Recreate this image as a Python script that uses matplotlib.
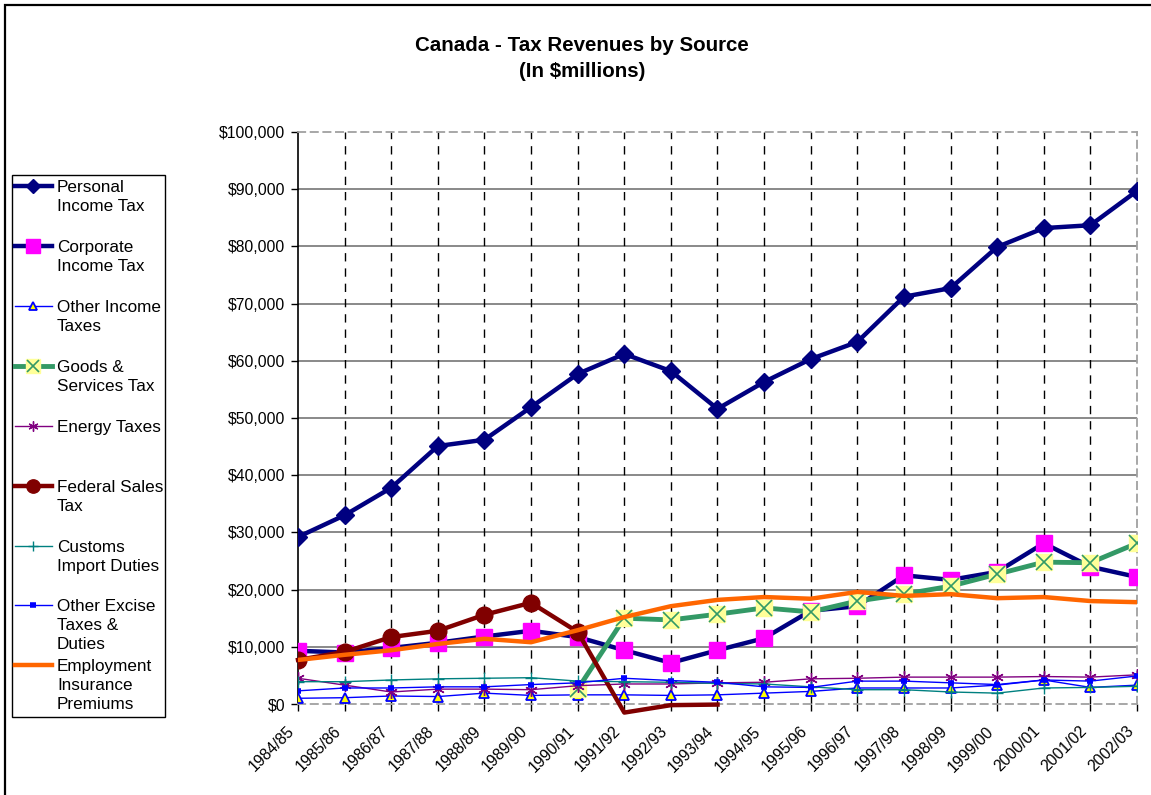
import numpy as np
import matplotlib
matplotlib.use("Agg")
import matplotlib.pyplot as plt
import matplotlib.transforms as mtransforms
from matplotlib.lines import Line2D
from matplotlib.patches import Rectangle
from matplotlib.ticker import FuncFormatter

plt.rcParams['font.family'] = ['Liberation Sans', 'DejaVu Sans']

# ---------- Data ($ millions) ----------
years = ['1984/85', '1985/86', '1986/87', '1987/88', '1988/89', '1989/90', '1990/91',
         '1991/92', '1992/93', '1993/94', '1994/95', '1995/96', '1996/97', '1997/98',
         '1998/99', '1999/00', '2000/01', '2001/02', '2002/03']
nan = np.nan

personal_income = [29200, 33000, 37800, 45100, 46200, 51900, 57700, 61200, 58200, 51600,
                   56300, 60300, 63300, 71200, 72700, 79900, 83200, 83700, 89700]
corporate_income = [9300, 9000, 9800, 10700, 11800, 12800, 11700, 9400, 7200, 9400,
                    11500, 16300, 17100, 22500, 21700, 23100, 28100, 24000, 22200]
other_income = [1000, 1100, 1400, 1300, 1900, 1500, 1600, 1600, 1500, 1600,
                1900, 2200, 2800, 2800, 2800, 3300, 4200, 2900, 3300]
gst = [nan, nan, nan, nan, nan, nan, 2600, 15000, 14700, 15700,
       16800, 16100, 18000, 19200, 20600, 22700, 24800, 24700, 28100]
energy = [4500, 3300, 2100, 2600, 2600, 2500, 3200, 3500, 3500, 3700,
          3800, 4400, 4500, 4700, 4700, 4700, 4800, 4700, 5100]
federal_sales = [7700, 9100, 11700, 12800, 15600, 17700, 12600, -1500, -200, -100,
                 nan, nan, nan, nan, nan, nan, nan, nan, nan]
customs = [3900, 3900, 4200, 4400, 4500, 4600, 4000, 3900, 3800, 3600,
           3500, 3000, 2500, 2500, 2100, 1900, 2800, 2900, 3100]
other_excise = [2300, 2800, 2800, 3000, 3000, 3400, 3700, 4500, 4100, 3800,
                3000, 2900, 4000, 4000, 3700, 3400, 4200, 4000, 4900]
ei_premiums = [7700, 8600, 9400, 10500, 11400, 10800, 12900, 15200, 17100, 18200,
               18700, 18400, 19600, 18900, 19200, 18500, 18700, 18000, 17800]

labels = ["Personal\nIncome Tax", "Corporate\nIncome Tax", "Other Income\nTaxes",
          "Goods &\nServices Tax", "Energy Taxes", "Federal Sales\nTax",
          "Customs\nImport Duties", "Other Excise\nTaxes &\nDuties",
          "Employment\nInsurance\nPremiums"]

# line / marker styles per series
styles = [
    dict(color='#000080', lw=3.2, marker='D', ms=9, mfc='#000080', mec='#000080'),
    dict(color='#000080', lw=3.2, marker='s', ms=12, mfc='#FF00FF', mec='#FF00FF'),
    dict(color='#0000FF', lw=1, marker='^', ms=7, mfc='#FFFF00', mec='#0000FF', mew=1.3),
    dict(color='#339966', lw=3.5, marker='s', ms=12, mfc='#FFFF99', mec='#FFFF99'),
    dict(color='#800080', lw=1, marker=(6, 2, 0), ms=9, mew=1, mec='#800080'),
    dict(color='#800000', lw=3.2, marker='o', ms=12, mfc='#800000', mec='#800000'),
    dict(color='#008080', lw=1, marker='+', ms=9, mew=1, mec='#008080'),
    dict(color='#0000FF', lw=1, marker='_', ms=5, mew=4, mec='#0000FF'),
    dict(color='#FF6600', lw=3.2, marker=None),
]
data = [personal_income, corporate_income, other_income, gst, energy,
        federal_sales, customs, other_excise, ei_premiums]

W, H = 1151, 795
fig = plt.figure(figsize=(W / 100, H / 100), dpi=100)
ax = fig.add_axes([298 / W, 1 - 704 / H, (1137 - 298) / W, (704 - 132) / H])

x = np.arange(len(years))
for i, (vals, st) in enumerate(zip(data, styles)):
    if i == 5:
        # federal sales tax dips below zero: line runs past the axis, markers only above it
        vals = np.array(vals, dtype=float)
        st_line = {k: v for k, v in st.items() if k in ('color', 'lw')}
        ax.plot(x, vals, zorder=3 + i, clip_on=False, **st_line)
        ax.plot(x, np.where(vals >= 0, vals, nan), ls='none', zorder=3 + i,
                **{k: v for k, v in st.items() if k != 'lw'})
        continue
    ax.plot(x, vals, zorder=3 + i, **st)
    if i == 3:
        # crossed box marker for GST
        ax.plot(x, vals, ls='none', marker='x', ms=11, mew=1.2, color='#339966', zorder=3 + i)

ax.set_xlim(0, len(years) - 1)
ax.set_ylim(0, 100000)
yt = np.arange(0, 100001, 10000)
ax.set_yticks(yt)
ax.yaxis.set_major_formatter(FuncFormatter(lambda v, p: f"${v:,.0f}"))
ax.set_xticks(x)
ax.set_xticklabels(years, rotation=45, ha='right', va='center', rotation_mode='anchor')
ax.tick_params(axis='both', direction='out', length=5, width=1, colors='black', labelsize=11.3)
ax.tick_params(axis='x', pad=15)
ax.tick_params(axis='y', pad=4)
shift = mtransforms.ScaledTranslation(-6 / 100, 3 / 100, fig.dpi_scale_trans)
for lbl in ax.get_xticklabels():
    lbl.set_transform(lbl.get_transform() + shift)

# grid: solid grey horizontals, dashed black verticals
ax.hlines(yt[1:-1], 0, len(years) - 1, color='#808080', lw=1.3, zorder=1)
ax.vlines(x[1:-1], 0, 100000, color='black', lw=1, linestyles=(0, (6, 5)), zorder=1)

for side in ['top', 'right', 'bottom']:
    ax.spines[side].set_color('#A0A0A0')
    ax.spines[side].set_linestyle((0, (4, 3)))
    ax.spines[side].set_linewidth(1.3)
ax.spines['left'].set_color('black')
ax.spines['left'].set_linewidth(1.2)

fig.text(582 / W, 1 - 58.5 / H, "Canada - Tax Revenues by Source\n(In $millions)",
         ha='center', va='center', fontsize=14.8, fontweight='bold', linespacing=1.5)

# ---------- Legend box ----------
def fx(px):
    return px / W

def fy(py):
    return 1 - py / H

fig.patches.append(Rectangle((fx(12), fy(717)), fx(165) - fx(12), fy(175) - fy(717),
                             transform=fig.transFigure, fill=False, ec='black', lw=1))
handle_y = [186, 246, 306, 366, 426, 486, 546, 605, 665]
for lab, st, hy, i in zip(labels, styles, handle_y, range(len(labels))):
    fig.lines.append(Line2D([fx(15), fx(52)], [fy(hy), fy(hy)], transform=fig.transFigure,
                            color=st['color'], lw=st['lw']))
    mst = {k: v for k, v in st.items() if k not in ('color', 'lw')}
    if mst.get('marker'):
        ms = mst.pop('ms')
        fig.lines.append(Line2D([fx(33)], [fy(hy)], transform=fig.transFigure, ls='none',
                                ms=ms * 0.8, color=st['color'], **mst))
        if i == 3:
            fig.lines.append(Line2D([fx(33)], [fy(hy)], transform=fig.transFigure, ls='none',
                                    marker='x', ms=9, mew=1.2, color='#339966'))
    fig.text(fx(57), fy(hy - 6), lab, ha='left', va='top', fontsize=12.3, linespacing=1.35)

# outer frame
fig.patches.append(Rectangle((fx(5), -0.1), 1.2, fy(5) + 0.1, transform=fig.transFigure,
                             fill=False, ec='black', lw=1.6))

fig.savefig("out.png", dpi=100)
